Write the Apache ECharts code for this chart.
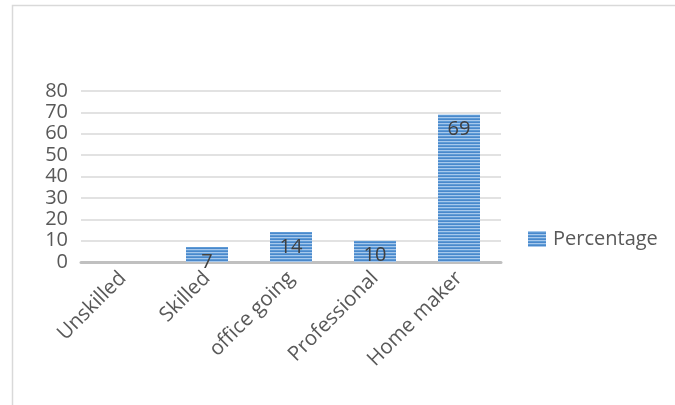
<!DOCTYPE html>
<html><head><meta charset="utf-8">
<script src="https://cdn.jsdelivr.net/npm/echarts@6/dist/echarts.min.js"></script>
<style>html,body{margin:0;padding:0;background:#fff}#c{width:675px;height:405px}</style>
</head><body><div id="c"></div>
<script>
var categories = ['Unskilled', 'Skilled', 'office going', 'Professional', 'Home maker'];
var percentage = [0, 7, 14, 10, 69];
var yTicks = [0, 10, 20, 30, 40, 50, 60, 70, 80];
var seriesName = 'Percentage';

var pc = document.createElement('canvas');
pc.width = 4; pc.height = 3;
var ctx = pc.getContext('2d');
ctx.fillStyle = '#5e9bd6'; ctx.fillRect(0, 0, 4, 3);
ctx.fillStyle = '#a6c8ec'; ctx.fillRect(0, 0, 4, 1);
ctx.fillStyle = '#4a88cb'; ctx.fillRect(0, 2, 4, 1);
var fill = { image: pc, repeat: 'repeat' };

var FONT = '"Open Sans", sans-serif';
var chart = echarts.init(document.getElementById('c'));
chart.setOption({
  animation: false,
  textStyle: { fontFamily: FONT },
  graphic: [{ type: 'rect', shape: { x: 12.5, y: 5.5, width: 700, height: 500 }, style: { fill: 'none', stroke: '#d9d9d9', lineWidth: 1.5 }, silent: true }],
  grid: { left: 81, right: 174, top: 91, bottom: 143 },
  legend: {
    data: [seriesName], left: 523, top: 224, icon: 'rect', itemWidth: 18, itemHeight: 16, itemGap: 6,
    textStyle: { fontSize: 20, color: '#595959', fontFamily: FONT, padding: [0, 0, 0, 2] }
  },
  xAxis: {
    type: 'category', data: categories,
    axisLine: { lineStyle: { color: '#c0c0c0', width: 3 } },
    axisTick: { show: false },
    axisLabel: { rotate: 45, interval: 0, fontSize: 20.5, color: '#595959', margin: 13, fontFamily: FONT }
  },
  yAxis: {
    type: 'value', min: yTicks[0], max: yTicks[yTicks.length - 1], interval: 10,
    axisLine: { show: false }, axisTick: { show: false },
    axisLabel: { fontSize: 20, color: '#595959', margin: 13, fontFamily: FONT },
    splitLine: { lineStyle: { color: '#d9d9d9', width: 1.5 } }
  },
  series: [{
    name: seriesName, type: 'bar', data: percentage, barWidth: '50%',
    itemStyle: { color: fill },
    label: { show: true, position: 'insideTop', distance: 5, fontSize: 20, color: '#404040', fontFamily: FONT,
      formatter: function (p) { return p.value ? String(p.value) : ''; } }
  }]
});
</script></body></html>
